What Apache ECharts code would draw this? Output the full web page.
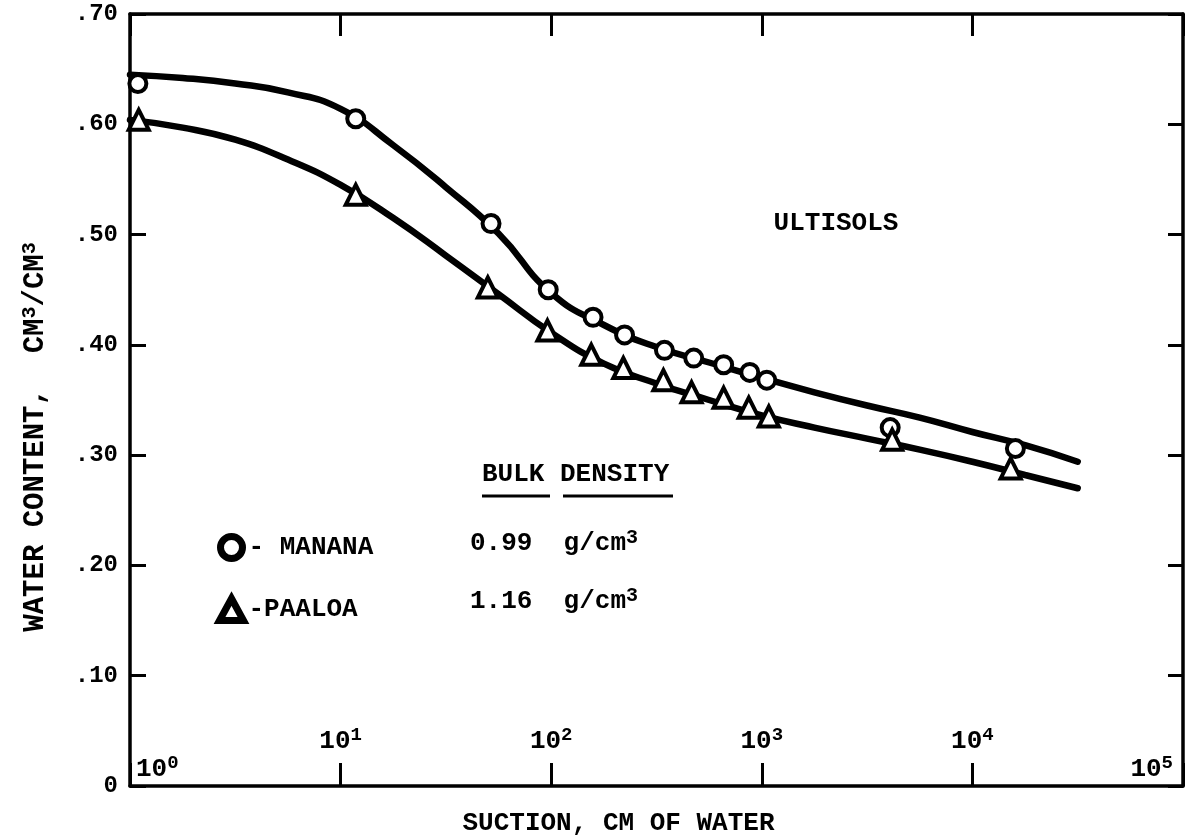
<!DOCTYPE html>
<html>
<head>
<meta charset="utf-8">
<script src="https://cdn.jsdelivr.net/npm/echarts@6/dist/echarts.min.js"></script>
<style>
html,body{margin:0;padding:0;background:#fff;}
#chart{width:1191px;height:838px;}
</style>
</head>
<body>
<div id="chart"></div>
<script>
// ---- Data ----
const mananaSuction = [1.09, 11.8, 51.8, 96.8, 158, 223, 345, 475, 659, 877, 1056, 4070, 16000];
const mananaWater   = [0.637, 0.605, 0.510, 0.450, 0.425, 0.409, 0.395, 0.388, 0.382, 0.375, 0.368, 0.325, 0.306];

const paaloaSuction = [1.1, 11.8, 50, 96, 155, 220, 341, 464, 659, 867, 1080, 4160, 15200];
const paaloaWater   = [0.604, 0.536, 0.452, 0.413, 0.391, 0.379, 0.368, 0.357, 0.352, 0.343, 0.335, 0.314, 0.288];

// hand-drawn fitted curves, every quarter decade
const curveSuction = [1, 1.78, 3.16, 5.62, 10, 17.8, 31.6, 56.2, 100, 178, 316, 562, 1000, 1778, 3162, 5623, 10000, 17783, 31623];
const mananaCurveWater = [0.645, 0.642, 0.637, 0.629, 0.614, 0.581, 0.543, 0.501, 0.447, 0.418, 0.398, 0.384, 0.370, 0.357, 0.345, 0.334, 0.321, 0.309, 0.294];
const paaloaCurveWater = [0.604, 0.597, 0.586, 0.568, 0.545, 0.515, 0.481, 0.446, 0.411, 0.383, 0.365, 0.350, 0.336, 0.325, 0.315, 0.305, 0.294, 0.282, 0.270];

const seriesNames = ['MANANA', 'PAALOA'];
const legendLabels = {'MANANA': '- MANANA', 'PAALOA': '-PAALOA'};
const bulkDensity = ['0.99', '1.16'];

const zip = (xs, ys) => xs.map((x, i) => [x, ys[i]]);
const FONT = 'Liberation Mono';

const chart = echarts.init(document.getElementById('chart'), null, {renderer: 'canvas'});

const axisLineStyle = {show: true, onZero: false, lineStyle: {color: '#000', width: 3.5}};
const baseRich = {fontFamily: FONT, fontWeight: 'bold', fontSize: 26, lineHeight: 30, color: '#000'};
const supRich = {fontFamily: FONT, fontWeight: 'bold', fontSize: 19, lineHeight: 8, verticalAlign: 'top', color: '#000'};

const option = {
  backgroundColor: '#fff',
  animation: false,
  grid: {left: 130, right: 8, top: 14, bottom: 52, containLabel: false, outerBoundsMode: 'none'},
  legend: {
    orient: 'vertical',
    left: 211,
    top: 528,
    itemGap: 33,
    itemWidth: 24,
    itemHeight: 22,
    selectedMode: false,
    data: [
      {name: 'MANANA', icon: 'circle', itemStyle: {color: '#fff', borderColor: '#000', borderWidth: 7, opacity: 1}},
      {name: 'PAALOA', icon: 'triangle', itemStyle: {color: '#fff', borderColor: '#000', borderWidth: 7, opacity: 1}}
    ],
    formatter: name => legendLabels[name],
    textStyle: {fontFamily: FONT, fontWeight: 'bold', fontSize: 26, color: '#000'}
  },
  xAxis: [
    {
      type: 'log', logBase: 10, min: 1, max: 100000, position: 'bottom',
      axisLine: axisLineStyle,
      axisTick: {show: true, inside: true, length: 23, lineStyle: {color: '#000', width: 3}},
      splitLine: {show: false},
      axisLabel: {
        inside: true, margin: 2, showMinLabel: true, showMaxLabel: true,
        alignMinLabel: 'left', alignMaxLabel: 'right',
        color: '#000',
        formatter: function (v) {
          const e = Math.round(Math.log10(v));
          if (e === 0) return '{b0|10}{s|0}';
          if (e === 5) return '{b|10}{s5|5}';
          return '{b|10}{s|' + e + '}\n{g| }';
        },
        rich: {
          b: baseRich,
          b0: Object.assign({}, baseRich, {padding: [0, 0, 0, 6]}),
          s: supRich,
          s5: Object.assign({}, supRich, {padding: [0, 10, 0, 0]}),
          g: {fontSize: 10, lineHeight: 28}
        }
      },
      name: 'SUCTION, CM OF WATER', nameLocation: 'middle', nameGap: 24,
      nameTextStyle: {fontFamily: FONT, fontWeight: 'bold', fontSize: 26, color: '#000', padding: [0, 76, 0, 0], verticalAlign: 'top'}
    },
    {
      type: 'log', logBase: 10, min: 1, max: 100000, position: 'top',
      axisLine: axisLineStyle,
      axisTick: {show: true, inside: true, length: 22, lineStyle: {color: '#000', width: 3}},
      axisLabel: {show: false},
      splitLine: {show: false}
    }
  ],
  yAxis: [
    {
      type: 'value', min: 0, max: 0.7, interval: 0.1, position: 'left',
      axisLine: axisLineStyle,
      axisTick: {show: true, inside: true, length: 16, lineStyle: {color: '#000', width: 3}},
      splitLine: {show: false},
      axisLabel: {
        margin: 12, color: '#000', fontFamily: FONT, fontWeight: 'bold', fontSize: 24,
        formatter: v => v === 0 ? '0' : '.' + String(Math.round(v * 100))
      },
      name: '{a|WATER CONTENT,  CM}{s|3}{a|/CM}{s|3}',
      nameLocation: 'middle', nameGap: 78, nameRotate: 90,
      nameTextStyle: {
        padding: [0, 74, 0, 0],
        rich: {
          a: {fontFamily: FONT, fontWeight: 'bold', fontSize: 29, lineHeight: 32, color: '#000'},
          s: {fontFamily: FONT, fontWeight: 'bold', fontSize: 20, lineHeight: 8, verticalAlign: 'top', color: '#000'}
        }
      }
    },
    {
      type: 'value', min: 0, max: 0.7, interval: 0.1, position: 'right',
      axisLine: axisLineStyle,
      axisTick: {show: true, inside: true, length: 15, lineStyle: {color: '#000', width: 3}},
      axisLabel: {show: false},
      splitLine: {show: false}
    }
  ],
  graphic: [
    {type: 'text', x: 836, y: 223, style: {text: 'ULTISOLS', font: 'bold 26px "Liberation Mono"', fill: '#000', align: 'center', verticalAlign: 'middle'}},
    {type: 'text', x: 482, y: 474, style: {text: 'BULK DENSITY', font: 'bold 26px "Liberation Mono"', fill: '#000', align: 'left', verticalAlign: 'middle'}},
    {type: 'line', shape: {x1: 482, y1: 496, x2: 550, y2: 496}, style: {stroke: '#000', lineWidth: 3}},
    {type: 'line', shape: {x1: 563, y1: 496, x2: 673, y2: 496}, style: {stroke: '#000', lineWidth: 3}},
    {type: 'text', x: 470, y: 543, style: {
      text: '{n|' + bulkDensity[0] + '  g/cm}{s|3}', align: 'left', verticalAlign: 'middle',
      rich: {
        n: {fontFamily: FONT, fontWeight: 'bold', fontSize: 26, lineHeight: 30, fill: '#000'},
        s: {fontFamily: FONT, fontWeight: 'bold', fontSize: 20, lineHeight: 8, verticalAlign: 'top', fill: '#000'}
      }}},
    {type: 'text', x: 470, y: 601, style: {
      text: '{n|' + bulkDensity[1] + '  g/cm}{s|3}', align: 'left', verticalAlign: 'middle',
      rich: {
        n: {fontFamily: FONT, fontWeight: 'bold', fontSize: 26, lineHeight: 30, fill: '#000'},
        s: {fontFamily: FONT, fontWeight: 'bold', fontSize: 20, lineHeight: 8, verticalAlign: 'top', fill: '#000'}
      }}}
  ],
  series: [
    {
      name: 'MANANA curve', type: 'line', xAxisIndex: 0, yAxisIndex: 0,
      data: zip(curveSuction, mananaCurveWater),
      smooth: 0.5, showSymbol: false, silent: true, z: 2,
      lineStyle: {color: '#000', width: 6.5, cap: 'round'}
    },
    {
      name: 'PAALOA curve', type: 'line', xAxisIndex: 0, yAxisIndex: 0,
      data: zip(curveSuction, paaloaCurveWater),
      smooth: 0.5, showSymbol: false, silent: true, z: 2,
      lineStyle: {color: '#000', width: 6.5, cap: 'round'}
    },
    {
      name: seriesNames[0], type: 'scatter', xAxisIndex: 0, yAxisIndex: 0,
      data: zip(mananaSuction, mananaWater),
      symbol: 'circle', symbolSize: 17, z: 3,
      itemStyle: {color: '#fff', borderColor: '#000', borderWidth: 4, opacity: 1}
    },
    {
      name: seriesNames[1], type: 'scatter', xAxisIndex: 0, yAxisIndex: 0,
      data: zip(paaloaSuction, paaloaWater),
      symbol: 'triangle', symbolSize: 20, z: 3,
      itemStyle: {color: '#fff', borderColor: '#000', borderWidth: 4, opacity: 1}
    }
  ]
};

chart.setOption(option);
</script>
</body>
</html>
